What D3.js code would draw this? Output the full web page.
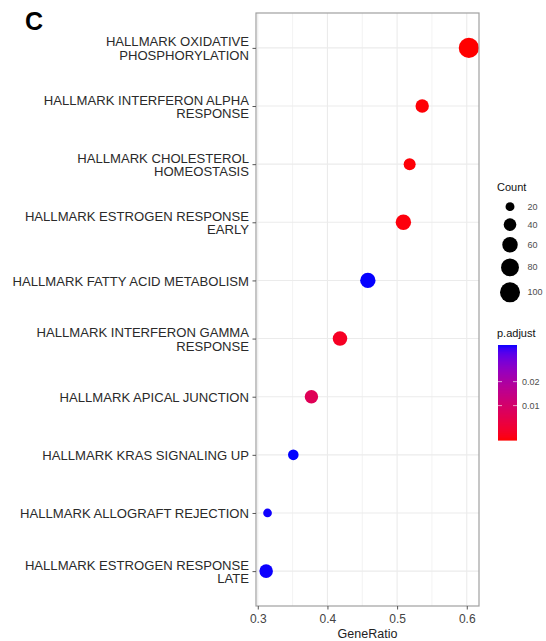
<!DOCTYPE html>
<html>
<head>
<meta charset="utf-8">
<script src="https://cdn.jsdelivr.net/npm/d3@7"></script>
<style>
  html, body { margin: 0; padding: 0; background: #fff; }
  svg { display: block; font-family: "Liberation Sans", Arial, sans-serif; }
</style>
</head>
<body>
<svg id="chart" width="546" height="641"></svg>
<script>
// Enriched hallmark gene sets (top to bottom)
const pathways = [
  "HALLMARK OXIDATIVE\nPHOSPHORYLATION",
  "HALLMARK INTERFERON ALPHA\nRESPONSE",
  "HALLMARK CHOLESTEROL\nHOMEOSTASIS",
  "HALLMARK ESTROGEN RESPONSE\nEARLY",
  "HALLMARK FATTY ACID METABOLISM",
  "HALLMARK INTERFERON GAMMA\nRESPONSE",
  "HALLMARK APICAL JUNCTION",
  "HALLMARK KRAS SIGNALING UP",
  "HALLMARK ALLOGRAFT REJECTION",
  "HALLMARK ESTROGEN RESPONSE\nLATE"
];
const geneRatio = [0.603, 0.536, 0.518, 0.509, 0.458, 0.418, 0.377, 0.351, 0.314, 0.312];
const geneCount = [102, 45, 36, 59, 59, 53, 45, 28, 19, 46];
const pAdjust   = [0.0037, 0.0038, 0.0038, 0.0039, 0.0575, 0.0046, 0.0080, 0.0577, 0.0570, 0.0572];

const xTicks = [0.3, 0.4, 0.5, 0.6];
const xMinorTicks = [0.35, 0.45, 0.55];
const countBreaks = [20, 40, 60, 80, 100];
const pBreaks = [0.01, 0.02];

const svg = d3.select("#chart");
const panel = { left: 256, right: 479, top: 13, bottom: 606 };

const rows = pathways.map((p, i) => ({
  name: p, ratio: geneRatio[i], count: geneCount[i], padj: pAdjust[i]
}));

// x: data extent expanded by 5% on each side
const [xmin, xmax] = d3.extent(geneRatio);
const xpad = (xmax - xmin) * 0.05;
const x = d3.scaleLinear().domain([xmin - xpad, xmax + xpad]).range([panel.left, panel.right]);

const y = d3.scalePoint().domain(pathways).range([panel.top, panel.bottom]).padding(0.6);

const r = d3.scaleSqrt().domain([0, 100]).range([0, 10]);

const pExtent = d3.extent(pAdjust);
const color = d3.scaleLog().domain(pExtent).range(["#ff0000", "#0000ff"]).interpolate(d3.interpolateLab);

// panel grid
const g = svg.append("g");
g.append("rect")
  .attr("x", panel.left).attr("y", panel.top)
  .attr("width", panel.right - panel.left).attr("height", panel.bottom - panel.top)
  .attr("fill", "#fff");

g.selectAll("line.minor").data(xMinorTicks).join("line")
  .attr("x1", d => x(d)).attr("x2", d => x(d))
  .attr("y1", panel.top).attr("y2", panel.bottom)
  .attr("stroke", "#f3f3f3").attr("stroke-width", 1);

g.selectAll("line.vmajor").data(xTicks).join("line")
  .attr("x1", d => x(d)).attr("x2", d => x(d))
  .attr("y1", panel.top).attr("y2", panel.bottom)
  .attr("stroke", "#ebebeb").attr("stroke-width", 1.1);

g.selectAll("line.hmajor").data(pathways).join("line")
  .attr("x1", panel.left).attr("x2", panel.right)
  .attr("y1", d => y(d)).attr("y2", d => y(d))
  .attr("stroke", "#ebebeb").attr("stroke-width", 1.1);

// points, plotted largest first
g.selectAll("circle.pt").data(rows.slice().sort((a, b) => b.count - a.count)).join("circle")
  .attr("cx", d => x(d.ratio))
  .attr("cy", d => y(d.name))
  .attr("r", d => r(d.count))
  .attr("fill", d => color(d.padj));

// panel border
g.append("rect")
  .attr("x", panel.left).attr("y", panel.top)
  .attr("width", panel.right - panel.left).attr("height", panel.bottom - panel.top)
  .attr("fill", "none").attr("stroke", "#a0a0a0").attr("stroke-width", 1.2);

// x axis
const xAxis = svg.append("g")
  .attr("transform", `translate(0,${panel.bottom})`)
  .call(d3.axisBottom(x).tickValues(xTicks).tickFormat(d3.format(".1f")).tickSize(3.5).tickPadding(5));
xAxis.select(".domain").remove();
xAxis.selectAll(".tick line").attr("stroke", "#555");
xAxis.selectAll(".tick text")
  .attr("fill", "#444").style("font-size", "12px").style("font-family", "Liberation Sans, Arial, sans-serif");

svg.append("text")
  .attr("x", (panel.left + panel.right) / 2).attr("y", 638)
  .attr("text-anchor", "middle").attr("fill", "#222")
  .style("font-size", "12.5px")
  .text("GeneRatio");

// y axis
const yAxis = svg.append("g")
  .attr("transform", `translate(${panel.left},0)`)
  .call(d3.axisLeft(y).tickSize(3.5).tickFormat(""));
yAxis.select(".domain").remove();
yAxis.selectAll(".tick line").attr("stroke", "#555");

const ylab = svg.append("g").selectAll("text").data(pathways).join("text")
  .attr("x", 249)
  .attr("text-anchor", "end")
  .attr("fill", "#2a2a2a")
  .style("font-size", "13.1px");
ylab.each(function (d) {
  const lines = d.split("\n");
  const yc = y(d);
  const t = d3.select(this);
  const lh = 13.6;
  lines.forEach((ln, i) => {
    const off = (i - (lines.length - 1) / 2) * lh;
    t.append("tspan").attr("x", 249).attr("y", yc + off + 0.8).attr("dominant-baseline", "central").text(ln);
  });
});

// panel letter
svg.append("text")
  .attr("x", 25).attr("y", 30)
  .attr("fill", "#000").style("font-size", "25px").style("font-weight", "bold")
  .text("C");

// size legend
const leg = svg.append("g");
leg.append("text").attr("x", 497).attr("y", 191)
  .attr("fill", "#111").style("font-size", "11px").text("Count");
let ky = 198;
countBreaks.forEach(v => {
  const h = Math.max(17.3, 2 * r(v) + 6);
  const cy = ky + h / 2;
  leg.append("circle").attr("cx", 510).attr("cy", cy).attr("r", r(v)).attr("fill", "#000");
  leg.append("text").attr("x", 527.5).attr("y", cy).attr("dominant-baseline", "central")
    .attr("fill", "#4d4d4d").style("font-size", "9px").text(v);
  ky += h;
});

// colour legend
leg.append("text").attr("x", 497).attr("y", 337)
  .attr("fill", "#111").style("font-size", "11px").text("p.adjust");
const bar = { x: 498, w: 19, top: 345, bottom: 440 };
const barY = d3.scaleLog().domain(pExtent).range([bar.bottom, bar.top]);
const nbin = 95;
const binH = (bar.bottom - bar.top) / nbin;
d3.range(nbin).forEach(i => {
  const yy = bar.bottom - (i + 1) * binH;
  const v = barY.invert(yy + binH / 2);
  leg.append("rect").attr("x", bar.x).attr("y", yy).attr("width", bar.w).attr("height", binH + 0.6)
    .attr("fill", color(v));
});
pBreaks.forEach(v => {
  const yy = barY(v);
  leg.append("line").attr("x1", bar.x).attr("x2", bar.x + 4).attr("y1", yy).attr("y2", yy)
    .attr("stroke", "#fff").attr("stroke-width", 0.8).attr("opacity", 0.8);
  leg.append("line").attr("x1", bar.x + bar.w - 4).attr("x2", bar.x + bar.w).attr("y1", yy).attr("y2", yy)
    .attr("stroke", "#fff").attr("stroke-width", 0.8).attr("opacity", 0.8);
  leg.append("text").attr("x", 522).attr("y", yy).attr("dominant-baseline", "central")
    .attr("fill", "#4d4d4d").style("font-size", "9px").text(d3.format(".2f")(v));
});
</script>
</body>
</html>
